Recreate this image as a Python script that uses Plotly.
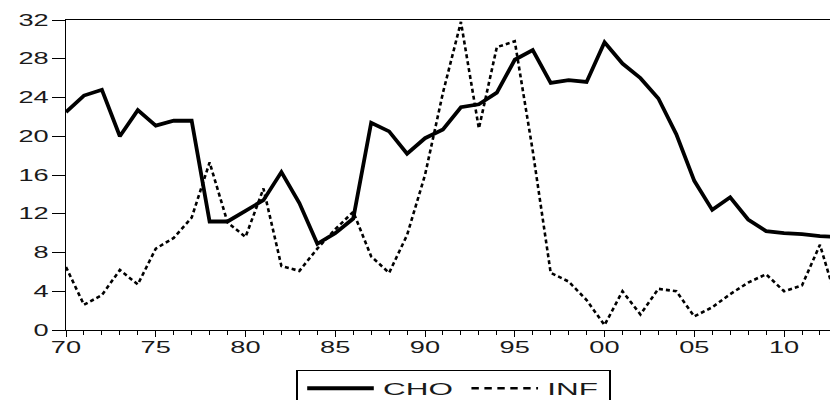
import plotly.graph_objects as go

years = list(range(1970, 2014))
cho = [22.5, 24.2, 24.8, 20.0, 22.7, 21.1, 21.6, 21.6, 11.2, 11.2,
       12.3, 13.4, 16.3, 13.1, 8.9, 10.0, 11.5, 21.4, 20.5, 18.2,
       19.8, 20.7, 23.0, 23.3, 24.5, 27.9, 28.9, 25.5, 25.8, 25.6,
       29.7, 27.5, 26.0, 23.9, 20.2, 15.4, 12.4, 13.7, 11.4, 10.2,
       10.0, 9.9, 9.7, 9.6]
inf = [6.5, 2.6, 3.6, 6.2, 4.7, 8.4, 9.5, 11.6, 17.3, 11.1,
       9.6, 14.6, 6.6, 6.1, 8.4, 10.4, 12.2, 7.6, 5.9, 9.8,
       16.0, 24.5, 31.8, 20.8, 29.2, 29.8, 18.5, 5.9, 5.0, 3.1,
       0.5, 4.0, 1.6, 4.25, 4.0, 1.4, 2.35, 3.7, 4.9, 5.75,
       4.0, 4.6, 8.8, 2.6]
x_tickvals = [1970, 1975, 1980, 1985, 1990, 1995, 2000, 2005, 2010]
x_ticktext = ["70", "75", "80", "85", "90", "95", "00", "05", "10"]
y_tickvals = [0, 4, 8, 12, 16, 20, 24, 28, 32]

fig = go.Figure()
fig.add_trace(go.Scatter(x=years, y=cho, name="CHO", mode="lines",
                         line=dict(color="black", width=3.8)))
fig.add_trace(go.Scatter(x=years, y=inf, name="INF", mode="lines",
                         line=dict(color="black", width=2.6, dash="4px,3px")))

fam = "Liberation Sans, Arial, sans-serif"
fig.update_layout(
    width=830, height=400,
    margin=dict(l=66, r=0, t=20, b=70, autoexpand=False),
    paper_bgcolor="white", plot_bgcolor="white",
    font=dict(family=fam, size=16, color="#1a1a1a"),
    showlegend=True,
    legend=dict(orientation="h", x=0.507, xanchor="center", y=-0.128, yanchor="top",
                bordercolor="black", borderwidth=1, bgcolor="white",
                font=dict(family=fam, size=17, color="#1a1a1a"),
                tracegroupgap=0, itemwidth=36),
)
fig.update_xaxes(range=[1970, 2012.56], tickvals=x_tickvals, ticktext=x_ticktext,
                 ticks="outside", ticklen=6, tickcolor="black", tickwidth=1,
                 showline=True, linecolor="black", linewidth=1, mirror=True,
                 showgrid=False, zeroline=False, automargin=False,
                 ticklabelstandoff=-3,
                 minor=dict(dtick=1, tick0=1970, ticks="outside", ticklen=3.5,
                            tickcolor="black", showgrid=False))
fig.update_yaxes(range=[0, 32], tickvals=y_tickvals,
                 ticks="outside", ticklen=13, tickcolor="black", tickwidth=1,
                 showline=True, linecolor="black", linewidth=1, mirror=True,
                 showgrid=False, zeroline=False, automargin=False,
                 ticklabelstandoff=0)

post = """
document.body.style.margin = '0';
document.body.style.padding = '0';
var gd = document.getElementById('{plot_id}');
function st(el, center, SX) {
  var bb = el.getBBox();
  var a = el.getAttribute('text-anchor') || 'start';
  var ax = a === 'middle' ? bb.x + bb.width / 2 : (a === 'end' ? bb.x + bb.width : bb.x);
  if (center) { ax = bb.x + bb.width / 2; }
  var t = el.getAttribute('transform') || '';
  el.setAttribute('transform', t + ' translate(' + ax + ',0) scale(' + SX + ',1) translate(' + (-ax) + ',0)');
}
gd.querySelectorAll('.xtick text, .ytick text').forEach(function (e) { st(e, false, 1.7); });
gd.querySelectorAll('g.legend').forEach(function (e) { st(e, true, 1.85); });
"""

fig.write_html("out.html", post_script=post, config={"displayModeBar": False})
